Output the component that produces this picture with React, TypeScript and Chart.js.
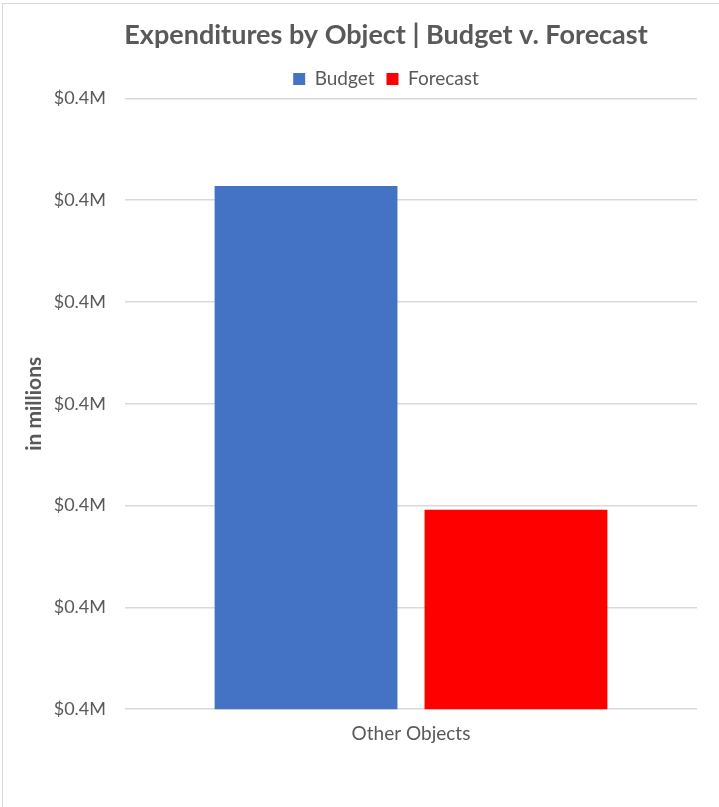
import React, { useEffect, useRef } from "react";
import { Chart, registerables } from "chart.js";

Chart.register(...registerables);

const categories: string[] = ["Other Objects"];
const budgetValues: number[] = [0.4214];
const forecastValues: number[] = [0.3896];
const seriesNames: string[] = ["Budget", "Forecast"];
const yMin = 0.37;
const yMax = 0.43;
const yStep = 0.01;

const FONT = "Lato, 'Open Sans', sans-serif";
const GRAY = "#595959";

export default function App() {
  const ref = useRef<HTMLCanvasElement | null>(null);
  useEffect(() => {
    if (!ref.current) return;
    const chart = new Chart(ref.current, {
      type: "bar",
      data: {
        labels: categories,
        datasets: [
          { label: seriesNames[0], data: budgetValues, backgroundColor: "#4472C4", borderWidth: 0 },
          { label: seriesNames[1], data: forecastValues, backgroundColor: "#FF0000", borderWidth: 0 },
        ],
      },
      options: {
        animation: false,
        responsive: false,
        maintainAspectRatio: false,
        layout: { padding: { left: 22, right: 28, top: 15, bottom: 57 } },
        datasets: { bar: { categoryPercentage: 0.734, barPercentage: 0.871 } },
        plugins: {
          title: {
            display: true,
            text: "Expenditures by Object | Budget v. Forecast",
            color: GRAY,
            font: { family: FONT, size: 27, weight: "bold" },
            padding: { top: 4, bottom: 6 },
          },
          legend: {
            display: true,
            labels: {
              color: GRAY,
              font: { family: FONT, size: 19 },
              boxWidth: 12,
              boxHeight: 12,
              padding: 12,
            },
          },
          tooltip: { enabled: false },
        },
        scales: {
          x: {
            grid: { display: false },
            border: { display: false },
            ticks: { color: GRAY, font: { family: FONT, size: 19 }, padding: 5 },
          },
          y: {
            min: yMin,
            max: yMax,
            border: { display: false },
            grid: { color: "#d9d9d9", lineWidth: 1.5, drawTicks: false },
            ticks: {
              stepSize: yStep,
              color: GRAY,
              font: { family: FONT, size: 18 },
              padding: 19,
              callback: (v: any) => "$" + Number(v).toFixed(1) + "M",
            },
            title: {
              display: true,
              text: "in millions",
              color: GRAY,
              font: { family: FONT, size: 21, weight: "bold" },
              padding: { top: 0, bottom: 0 },
            },
            afterFit: (s: any) => {
              s.width = 103;
            },
          },
          y2: {
            position: "right",
            display: true,
            grid: { display: false },
            border: { display: false },
            ticks: { display: false },
            afterFit: (s: any) => {
              s.width = 53;
            },
          },
        },
      },
    });
    return () => chart.destroy();
  }, []);
  return (
    <div style={{ position: "fixed", left: 0, top: 0, width: 719, height: 807, overflow: "hidden", background: "#fff" }}>
      <canvas ref={ref} width={778} height={807} style={{ position: "absolute", left: 0, top: 0, width: 778, height: 807 }} />
      <div style={{ position: "absolute", left: 2, top: 3, width: 800, height: 900, border: "1.5px solid #d9d9d9", pointerEvents: "none" }} />
    </div>
  );
}
